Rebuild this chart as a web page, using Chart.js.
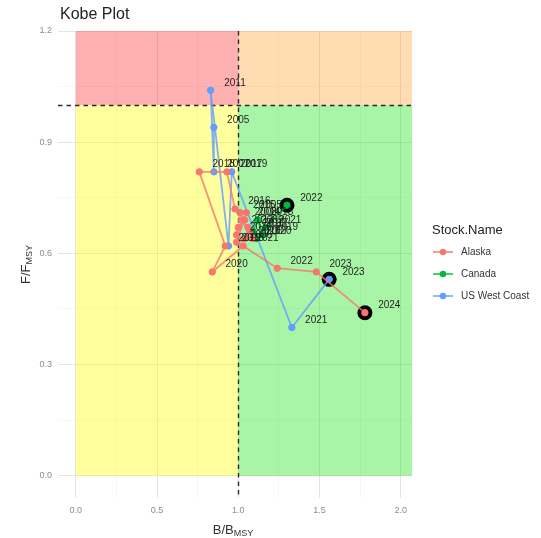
<!DOCTYPE html>
<html>
<head>
<meta charset="utf-8">
<script src="https://cdn.jsdelivr.net/npm/chart.js@4.4.1/dist/chart.umd.min.js"></script>
<style>
  html, body { margin: 0; padding: 0; background: #ffffff; }
  #wrap { width: 541px; height: 538px; position: relative; }
</style>
</head>
<body>
<div id="wrap"><canvas id="kobe" width="541" height="538"></canvas></div>
<script>
// ---- data ----
const stockNames = ["Alaska", "Canada", "US West Coast"];
const stockColors = ["#F8766D", "#00BA38", "#619CFF"];

const alaskaYears = [2005, 2006, 2007, 2008, 2009, 2010, 2011, 2012, 2013, 2014, 2015, 2016, 2017, 2018, 2019, 2020, 2021, 2022, 2023, 2024];
const alaskaB = [1.05, 0.99, 1.09, 1.02, 1.06, 1.07, 1.04, 0.99, 1.00, 1.04, 1.01, 0.98, 0.93, 0.76, 0.92, 0.84, 1.03, 1.24, 1.48, 1.78];
const alaskaF = [0.71, 0.63, 0.64, 0.69, 0.67, 0.66, 0.64, 0.65, 0.67, 0.69, 0.71, 0.72, 0.82, 0.82, 0.62, 0.55, 0.62, 0.56, 0.55, 0.44];

const canadaYears = [2017, 2018, 2019, 2020, 2021, 2022];
const canadaB = [1.09, 1.12, 1.15, 1.11, 1.17, 1.30];
const canadaF = [0.66, 0.69, 0.65, 0.64, 0.67, 0.73];

const uswcYears = [2005, 2007, 2011, 2015, 2019, 2021, 2023];
const uswcB = [0.85, 0.85, 0.83, 0.94, 0.96, 1.33, 1.56];
const uswcF = [0.94, 0.82, 1.04, 0.62, 0.82, 0.40, 0.53];

const xMajor = [0, 0.5, 1, 1.5, 2];
const xMinor = [0.25, 0.75, 1.25, 1.75];
const xTickLabels = ["0.0", "0.5", "1.0", "1.5", "2.0"];
const yMajor = [0, 0.3, 0.6, 0.9, 1.2];
const yMinor = [0.15, 0.45, 0.75, 1.05];
const yTickLabels = ["0.0", "0.3", "0.6", "0.9", "1.2"];

// reference points and zone extent
const bRef = 1.0;
const fRef = 1.0;
const fTop = 1.2;

const FONT = '"Liberation Sans", Arial, sans-serif';

const seriesYears = [alaskaYears, canadaYears, uswcYears];
const seriesB = [alaskaB, canadaB, uswcB];
const seriesF = [alaskaF, canadaF, uswcF];

function toPoints(B, F) { return B.map((b, i) => ({ x: b, y: F[i] })); }

function rgba(hex, a) {
  const n = parseInt(hex.slice(1), 16);
  return `rgba(${(n >> 16) & 255},${(n >> 8) & 255},${n & 255},${a})`;
}

const datasets = stockNames.map((name, i) => ({
  label: name,
  data: toPoints(seriesB[i], seriesF[i]),
  showLine: true,
  borderColor: rgba(stockColors[i], 0.8),
  borderWidth: 1.8,
  backgroundColor: stockColors[i],
  pointBackgroundColor: stockColors[i],
  pointBorderColor: rgba(stockColors[i], 1),
  pointBorderWidth: 1,
  pointRadius: 3.2,
  tension: 0,
  order: 1 + i
}));

// black rings behind the latest year of each stock
datasets.push({
  label: "latest",
  data: seriesB.map((B, i) => ({ x: B[B.length - 1], y: seriesF[i][seriesF[i].length - 1] })),
  showLine: false,
  pointRadius: 7.5,
  pointBackgroundColor: "#000000",
  pointBorderColor: "#000000",
  pointBorderWidth: 0,
  order: 10
});

function isMajor(list, v) { return list.some(m => Math.abs(m - v) < 1e-9); }

const zonesPlugin = {
  id: "kobeZones",
  beforeDatasetsDraw(chart) {
    const { ctx, chartArea: a, scales: { x, y } } = chart;
    const x0 = x.getPixelForValue(0), xr = x.getPixelForValue(bRef), x2 = a.right;
    const y0 = y.getPixelForValue(0), yr = y.getPixelForValue(fRef), y2 = y.getPixelForValue(fTop);
    ctx.save();
    ctx.fillStyle = "rgba(255,0,0,0.31)";     ctx.fillRect(x0, y2, xr - x0, yr - y2);
    ctx.fillStyle = "rgba(255,140,0,0.30)";   ctx.fillRect(xr, y2, x2 - xr, yr - y2);
    ctx.fillStyle = "rgba(255,255,0,0.38)";   ctx.fillRect(x0, yr, xr - x0, y0 - yr);
    ctx.fillStyle = "rgba(0,225,0,0.34)";     ctx.fillRect(xr, yr, x2 - xr, y0 - yr);
    ctx.strokeStyle = "#2a2a2a";
    ctx.lineWidth = 1.4;
    ctx.setLineDash([4.5, 4]);
    ctx.beginPath();
    ctx.moveTo(Math.round(xr) + 0.5, a.top);
    ctx.lineTo(Math.round(xr) + 0.5, a.bottom);
    ctx.moveTo(a.left, Math.round(yr) + 0.5);
    ctx.lineTo(a.right, Math.round(yr) + 0.5);
    ctx.stroke();
    ctx.restore();
  },
  afterDatasetsDraw(chart) {
    const { ctx, scales: { x, y } } = chart;
    ctx.save();
    ctx.font = `10px ${FONT}`;
    ctx.fillStyle = "#1f1f1f";
    ctx.textAlign = "center";
    ctx.textBaseline = "middle";
    seriesYears.forEach((years, s) => {
      years.forEach((yr, j) => {
        const px = x.getPixelForValue(seriesB[s][j] + 0.15);
        const py = y.getPixelForValue(seriesF[s][j] + 0.02);
        ctx.fillText(String(yr), px, py);
      });
    });
    ctx.restore();
  },
  afterDraw(chart) {
    const { ctx, chartArea: a } = chart;
    ctx.save();
    // title
    ctx.fillStyle = "#1f1f1f";
    ctx.font = `16px ${FONT}`;
    ctx.textAlign = "left";
    ctx.textBaseline = "middle";
    ctx.fillText("Kobe Plot", 60, 15);

    // axis titles with MSY subscript
    function subTitle(main, sub) {
      ctx.font = `13px ${FONT}`;
      const w1 = ctx.measureText(main).width;
      ctx.font = `9px ${FONT}`;
      const w2 = ctx.measureText(sub).width;
      return { w1, w2, total: w1 + w2 };
    }
    ctx.fillStyle = "#333333";
    ctx.textBaseline = "alphabetic";
    let m = subTitle("B/B", "MSY");
    let cx = (a.left + a.right) / 2 - 2;
    let sx = cx - m.total / 2;
    ctx.font = `13px ${FONT}`;
    ctx.fillText("B/B", sx, 534);
    ctx.font = `9px ${FONT}`;
    ctx.fillText("MSY", sx + m.w1, 536);

    m = subTitle("F/F", "MSY");
    ctx.translate(30, (a.top + a.bottom) / 2);
    ctx.rotate(-Math.PI / 2);
    sx = -m.total / 2;
    ctx.font = `13px ${FONT}`;
    ctx.fillText("F/F", sx, 0);
    ctx.font = `9px ${FONT}`;
    ctx.fillText("MSY", sx + m.w1, 2);
    ctx.setTransform(1, 0, 0, 1, 0, 0);

    // legend
    ctx.textBaseline = "middle";
    ctx.fillStyle = "#222222";
    ctx.font = `13px ${FONT}`;
    ctx.fillText("Stock.Name", 432, 230);
    stockNames.forEach((name, i) => {
      const yy = 252 + i * 22;
      ctx.strokeStyle = rgba(stockColors[i], 0.8);
      ctx.lineWidth = 1.8;
      ctx.beginPath();
      ctx.moveTo(433, yy);
      ctx.lineTo(453, yy);
      ctx.stroke();
      ctx.fillStyle = stockColors[i];
      ctx.beginPath();
      ctx.arc(443, yy, 3.2, 0, Math.PI * 2);
      ctx.fill();
      ctx.fillStyle = "#333333";
      ctx.font = `10px ${FONT}`;
      ctx.fillText(name, 461, yy);
    });
    ctx.restore();
  }
};

function gridStyle(majorList) {
  return {
    drawTicks: false,
    color: ctx => (ctx.tick && isMajor(majorList, ctx.tick.value)) ? "#e4e4e4" : "#f0f0f0",
    lineWidth: ctx => (ctx.tick && isMajor(majorList, ctx.tick.value)) ? 1 : 0.6
  };
}

new Chart(document.getElementById("kobe"), {
  type: "scatter",
  data: { datasets },
  options: {
    responsive: false,
    animation: false,
    devicePixelRatio: 1,
    layout: { padding: { left: 0, top: 31, right: 129, bottom: 0 } },
    plugins: { legend: { display: false }, tooltip: { enabled: false }, title: { display: false } },
    scales: {
      x: {
        type: "linear",
        min: -0.11,
        max: 2.07,
        border: { display: false },
        grid: gridStyle(xMajor),
        afterBuildTicks: s => { s.ticks = [...xMajor, ...xMinor].sort((p, q) => p - q).map(v => ({ value: v })); },
        afterFit: s => { s.height = 40; },
        ticks: {
          autoSkip: false,
          maxRotation: 0,
          padding: 7,
          color: "#8c8c8c",
          font: { family: FONT, size: 9 },
          callback: v => { const k = xMajor.findIndex(m => Math.abs(m - v) < 1e-9); return k >= 0 ? xTickLabels[k] : ""; }
        }
      },
      y: {
        type: "linear",
        min: -0.06,
        max: 1.2,
        border: { display: false },
        grid: gridStyle(yMajor),
        afterBuildTicks: s => { s.ticks = [...yMajor, ...yMinor].sort((p, q) => p - q).map(v => ({ value: v })); },
        afterFit: s => { s.width = 58; },
        ticks: {
          autoSkip: false,
          padding: 6,
          color: "#8c8c8c",
          font: { family: FONT, size: 9 },
          callback: v => { const k = yMajor.findIndex(m => Math.abs(m - v) < 1e-9); return k >= 0 ? yTickLabels[k] : ""; }
        }
      }
    }
  },
  plugins: [zonesPlugin]
});
</script>
</body>
</html>
